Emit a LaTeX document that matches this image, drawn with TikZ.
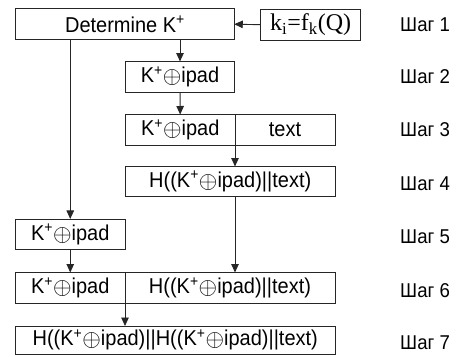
\documentclass[tikz,border=0pt]{standalone}
\usepackage{fontspec}
\usepackage{graphicx}
\setmainfont{Liberation Sans}[FakeStretch=0.93]
\newfontfamily\serifont{Liberation Serif}
\usetikzlibrary{arrows.meta}
\newcommand{\xorsym}{\raisebox{-0.05em}{\scalebox{1.15}{$\oplus$}}}

\begin{document}
\begin{tikzpicture}[x=1pt,y=-1pt,
box/.style={draw=black!85, line width=0.9pt, inner sep=0pt, outer sep=0pt, minimum height=31pt, font=\fontsize{21.5}{23}\selectfont},
steplabel/.style={anchor=west, inner sep=0pt, font=\fontsize{20}{22}\selectfont},
arr/.style={draw=black!85, line width=0.9pt, -{Triangle[length=8.5pt,width=7.5pt]}}
]
    \useasboundingbox (0,0) rectangle (457,356);

    \node [box, minimum width=218.5pt] (d1) at (125,24.2) {Determine K\textsuperscript{+}};
    \node [box, minimum width=100pt, font=\serifont\fontsize{24}{26}\selectfont] (ki) at (310.7,24.7) {k\textsubscript{i}=f\textsubscript{k}(Q)};

    \node [box, minimum width=109pt] (k2) at (180,77) {K\textsuperscript{+}\xorsym ipad};

    \node [box, minimum width=109.5pt] (k3) at (180.25,130) {K\textsuperscript{+}\xorsym ipad};
    \node [box, minimum width=100pt] (t3) at (285,130) {text};

    \node [box, minimum width=209.5pt, minimum height=30pt] (h4) at (230.25,181.5) {H((K\textsuperscript{+}\xorsym ipad)||text)};

    \node [box, minimum width=109.5pt, minimum height=30.5pt] (k5) at (70.25,234.2) {K\textsuperscript{+}\xorsym ipad};

    \node [box, minimum width=109.5pt] (k6) at (70.25,288) {K\textsuperscript{+}\xorsym ipad};
    \node [box, minimum width=210pt] (h6) at (230,288) {H((K\textsuperscript{+}\xorsym ipad)||text)};

    \node [box, minimum width=319.5pt, minimum height=28pt] (h7) at (175.25,340) {H((K\textsuperscript{+}\xorsym ipad)||H((K\textsuperscript{+}\xorsym ipad)||text)};

    \node [steplabel] (s1) at (400,25) {Шаг 1};
    \node [steplabel] (s2) at (400,77) {Шаг 2};
    \node [steplabel] (s3) at (400,130) {Шаг 3};
    \node [steplabel] (s4) at (400,184) {Шаг 4};
    \node [steplabel] (s5) at (400,237) {Шаг 5};
    \node [steplabel] (s6) at (400,291) {Шаг 6};
    \node [steplabel] (s7) at (400,343) {Шаг 7};

    \draw [arr] (ki.west) -- (d1.east);
    \draw [arr] (d1.south -| k2) -- (k2.north);
    \draw [arr] (k2) -- (k3);
    \draw [arr] (k3.north east) -- (k3.north east |- h4.north);
    \draw [arr] (d1.south -| k5) -- (k5.north);
    \draw [arr] (h4.south -| k3.east) -- (h6.north -| k3.east);
    \draw [arr] (k5) -- (k6);
    \draw [arr] (k6.north east) -- (k6.north east |- h7.north);
    \end{tikzpicture}
\end{document}
